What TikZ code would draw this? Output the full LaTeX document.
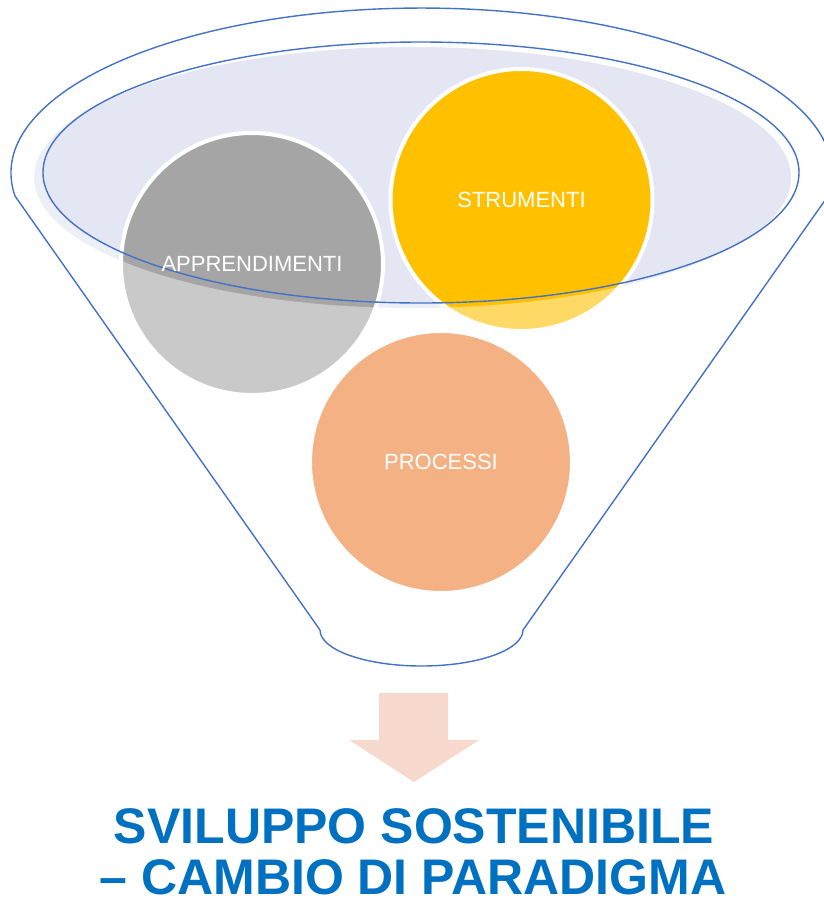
\documentclass[tikz,border=0pt]{standalone}
\usepackage{fontspec}
\setmainfont{Liberation Sans}
\definecolor{rimblue}{HTML}{4472C4}
\definecolor{lavhalo}{HTML}{EDEFF7}
\definecolor{lavfill}{HTML}{E4E7F3}
\definecolor{greyc}{HTML}{A5A5A5}
\definecolor{yellowc}{HTML}{FFC000}
\definecolor{orangec}{HTML}{ED7D31}
\definecolor{arrowc}{HTML}{F8D9CE}
\definecolor{titleblue}{HTML}{0070C0}
\tikzset{
  ball/.style={circle, minimum size=262pt, inner sep=0pt, draw=white, line width=4pt},
  rim/.style={draw=rimblue, line width=1.4pt},
  lbl/.style={text=white, inner sep=0pt, font=\fontsize{22}{22}\selectfont},
  titletext/.style={text=titleblue, inner sep=0pt, anchor=base, font=\fontsize{50}{50}\selectfont\bfseries},
}
\begin{document}
\begin{tikzpicture}[x=1pt,y=1pt]
\useasboundingbox (0,0) rectangle (824,-898);
% lavender mouth of the funnel
\fill[lavhalo] (412.5,-177.5) ellipse [x radius=378.5, y radius=130.5];
\begin{scope}
  \clip (421,-172.5) ellipse [x radius=378, y radius=130.5];
  \fill[lavfill] (412.5,-177.5) ellipse [x radius=378.5, y radius=130.5];
\end{scope}
% circles
\node[ball, fill=greyc] (appr) at (252,-264) {};
\node[ball, fill=yellowc] (strum) at (521.5,-200) {};
\node[ball, fill=orangec] (proc) at (441,-462) {};
% translucent veil of the funnel body
\fill[white, fill opacity=0.4, even odd rule] (-20,20) rectangle (844,-918)
  (412.5,-177.5) ellipse [x radius=378.5, y radius=130.5];
% inner rim
\draw[rim] (421,-172.5) ellipse [x radius=378, y radius=130.5];
% funnel outline
\draw[rim, line join=round] (15,-196)
  arc[start angle=188, end angle=-8, x radius=410.5, y radius=165]
  -- (523,-630)
  arc[start angle=0, end angle=-180, x radius=101.5, y radius=36]
  -- cycle;
% labels
\node[lbl] (apprtext) at (appr.center) {APPRENDIMENTI};
\node[lbl] (strumtext) at (strum.center) {STRUMENTI};
\node[lbl] (proctext) at (proc.center) {PROCESSI};
% arrow
\fill[arrowc] (379,-693) -- (448,-693) -- (448,-740) -- (479,-740) -- (414,-782)
  -- (349,-740) -- (379,-740) -- cycle;
% title
\node[titletext] (t1) at (414,-843) {SVILUPPO SOSTENIBILE};
\node[titletext] (t2) at (413,-894) {– CAMBIO DI PARADIGMA};
\end{tikzpicture}
\end{document}
